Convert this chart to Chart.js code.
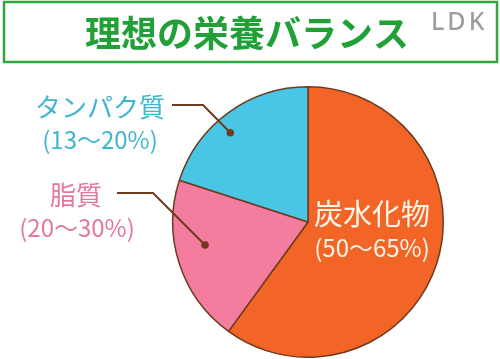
<!DOCTYPE html>
<html><head><meta charset="utf-8">
<script src="https://cdn.jsdelivr.net/npm/chart.js@4/dist/chart.umd.min.js"></script>
<style>html,body{margin:0;padding:0;background:#fff;}#wrap{position:relative;width:500px;height:359px;}canvas{display:block;}</style>
</head><body><div id="wrap"><canvas id="c" width="500" height="359"></canvas></div>
<script>
const title = '理想の栄養バランス';
const brand = 'LDK';
const categories = ['炭水化物', '脂質', 'タンパク質'];
const ranges = ['(50〜65%)', '(20〜30%)', '(13〜20%)'];
const values = [60, 20, 20];
const sliceColors = ['#F26527', '#F47C9F', '#49C5E5'];
const labelColors = ['#FFF6E8', '#E2799A', '#3FB6CF'];

const labelPlugin = {
  id: 'labels',
  beforeDraw(chart) {
    const ctx = chart.ctx;
    ctx.save();
    ctx.fillStyle = '#fff';
    ctx.fillRect(0, 0, chart.width, chart.height);
    ctx.strokeStyle = '#2EA83D';
    ctx.lineWidth = 2.5;
    ctx.strokeRect(4, 2, 493, 60);
    ctx.fillStyle = '#22A038';
    ctx.font = 'bold 36px "Noto Sans CJK JP"';
    ctx.textAlign = 'center';
    ctx.textBaseline = 'middle';
    ctx.fillText(title, 247, 33);
    ctx.fillStyle = '#9E9E9E';
    ctx.font = '500 25px "Noto Sans"';
    ctx.letterSpacing = '3px';
    ctx.textAlign = 'left';
    ctx.textBaseline = 'alphabetic';
    ctx.fillText(brand, 431, 30);
    ctx.restore();
  },
  afterDraw(chart) {
    const ctx = chart.ctx;
    const arcs = chart.getDatasetMeta(0).data;
    const cx = arcs[0].x, cy = arcs[0].y, r = arcs[0].outerRadius;
    ctx.save();
    ctx.textAlign = 'center';
    ctx.textBaseline = 'middle';
    ctx.fillStyle = labelColors[0];
    ctx.font = '29px "Noto Sans CJK JP"';
    ctx.fillText(categories[0], cx + 64, cy - 8);
    ctx.font = '24px "Noto Sans CJK JP"';
    ctx.fillText(ranges[0], cx + 64, cy + 26);
    const cfg = {
      1: {t: 0.575, f: 0.78, elbow: [-155, -29], end: [-191, -29], lab: [-232, -27], rng: [-231, 6]},
      2: {t: 0.43, f: 0.875, elbow: [-105, -117], end: [-136, -117], lab: [-208, -115], rng: [-208, -82]}
    };
    for (const i of [1, 2]) {
      const a = arcs[i], c = cfg[i];
      const ang = a.startAngle + c.t * (a.endAngle - a.startAngle);
      const dx = cx + Math.cos(ang) * r * c.f, dy = cy + Math.sin(ang) * r * c.f;
      ctx.strokeStyle = '#6E3B1E';
      ctx.lineWidth = 2;
      ctx.beginPath();
      ctx.moveTo(dx, dy);
      ctx.lineTo(cx + c.elbow[0], cy + c.elbow[1]);
      ctx.lineTo(cx + c.end[0], cy + c.end[1]);
      ctx.stroke();
      ctx.fillStyle = '#6E3B1E';
      ctx.beginPath();
      ctx.arc(dx, dy, 3.8, 0, Math.PI * 2);
      ctx.fill();
      ctx.fillStyle = labelColors[i];
      ctx.font = '26px "Noto Sans CJK JP"';
      ctx.fillText(categories[i], cx + c.lab[0], cy + c.lab[1]);
      ctx.font = '24px "Noto Sans CJK JP"';
      ctx.fillText(ranges[i], cx + c.rng[0], cy + c.rng[1]);
    }
    ctx.restore();
  }
};

new Chart(document.getElementById('c'), {
  type: 'pie',
  data: {
    labels: categories,
    datasets: [{
      data: values,
      backgroundColor: sliceColors,
      borderColor: '#6E3B1E',
      borderWidth: 1.5,
      hoverOffset: 0
    }]
  },
  options: {
    responsive: false,
    animation: false,
    events: [],
    layout: {padding: {left: 172, right: 56, top: 86, bottom: 1}},
    plugins: {legend: {display: false}, tooltip: {enabled: false}, title: {display: false}}
  },
  plugins: [labelPlugin]
});
</script>
</body></html>
